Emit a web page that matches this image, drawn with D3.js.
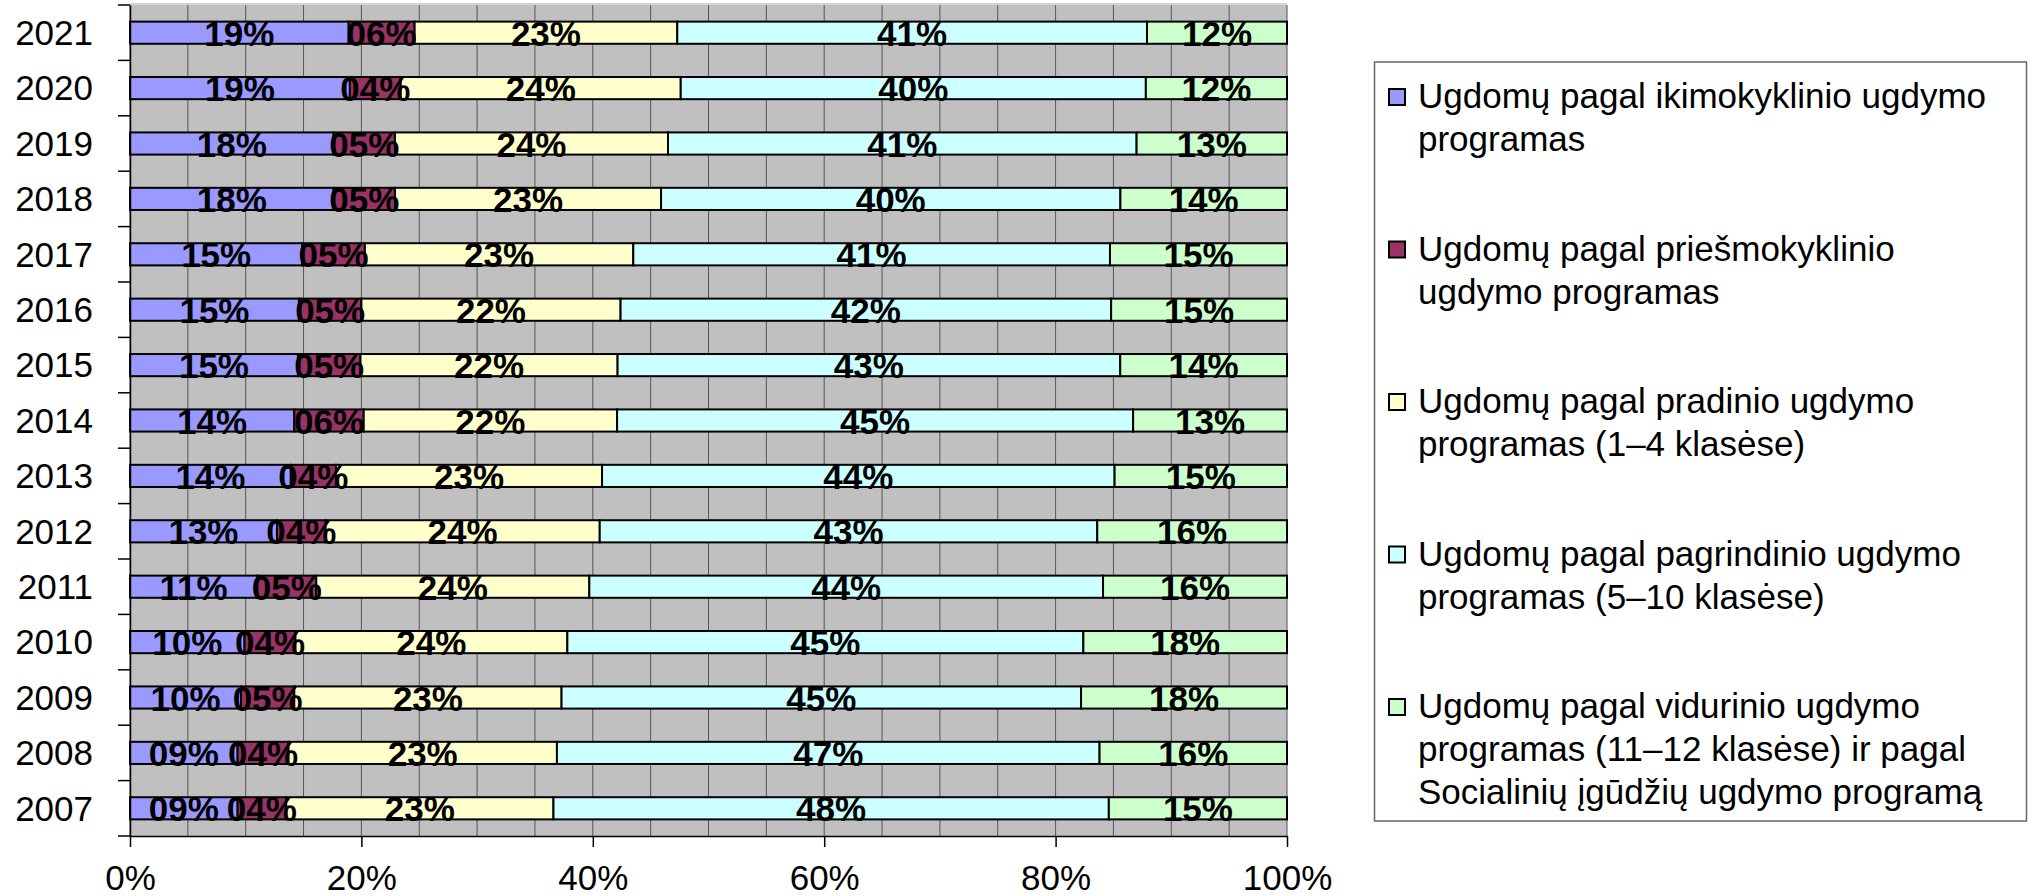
<!DOCTYPE html>
<html>
<head>
<meta charset="utf-8">
<script src="https://cdn.jsdelivr.net/npm/d3@7"></script>
<style>
    body { margin: 0; background: #fff; }
    svg text { font-family: "Liberation Sans", Arial, sans-serif; }
</style>
</head>
<body>
<div id="chart"></div>
<script>
// categories (top to bottom as in the chart)
const years = ["2021", "2020", "2019", "2018", "2017", "2016", "2015", "2014",
    "2013", "2012", "2011", "2010", "2009", "2008", "2007"];

// shares per year, %
const ikimokyklinio  = [18.9, 19.0, 17.6, 17.6, 14.9, 14.6, 14.5, 14.2, 13.9, 12.7, 11.0, 9.9, 9.6, 9.3, 9.3];
const priesmokyklinio = [5.7, 4.4, 5.3, 5.3, 5.4, 5.4, 5.4, 6.0, 3.9, 4.2, 5.1, 4.4, 4.6, 4.4, 4.2];
const pradinio       = [22.7, 24.2, 23.6, 23.0, 23.2, 22.4, 22.2, 21.9, 23.0, 23.7, 23.6, 23.5, 23.1, 23.2, 23.1];
const pagrindinio    = [40.6, 40.2, 40.5, 39.7, 41.2, 42.4, 43.4, 44.6, 44.3, 43.0, 44.4, 44.6, 44.9, 46.9, 48.0];
const vidurinio      = [12.1, 12.2, 13.0, 14.4, 15.3, 15.2, 14.4, 13.3, 14.9, 16.4, 15.9, 17.6, 17.8, 16.2, 15.4];

const seriesNames = [
    ["Ugdomų pagal ikimokyklinio ugdymo", "programas"],
    ["Ugdomų pagal priešmokyklinio", "ugdymo programas"],
    ["Ugdomų pagal pradinio ugdymo", "programas (1–4 klasėse)"],
    ["Ugdomų pagal pagrindinio ugdymo", "programas (5–10 klasėse)"],
    ["Ugdomų pagal vidurinio ugdymo", "programas (11–12 klasėse) ir pagal", "Socialinių įgūdžių ugdymo programą"]
];

const xTicks = [0, 0.2, 0.4, 0.6, 0.8, 1];

const colors = ["#9999FF", "#993366", "#FFFFCC", "#CCFFFF", "#CCFFCC"];

// ---------------------------------------------------------------

const keys = ["s0", "s1", "s2", "s3", "s4"];
const allSeries = [ikimokyklinio, priesmokyklinio, pradinio, pagrindinio, vidurinio];

let rows = years.map((yr, i) => {
    let r = { year: yr };
    keys.forEach((k, j) => r[k] = allSeries[j][i]);
    return r;
});

let width = 2035, height = 896;
let plot = { left: 130, right: 1287, top: 5, bottom: 836 };

let svg = d3.select("#chart").append("svg")
    .attr("width", width)
    .attr("height", height);

let x = d3.scaleLinear()
    .domain([0, 1])
    .range([plot.left, plot.right]);

let y = d3.scaleBand()
    .domain(years)
    .range([plot.top, plot.bottom])
    .paddingInner(0.6)
    .paddingOuter(0.3);

let stacked = d3.stack()
    .keys(keys)
    .offset(d3.stackOffsetExpand)(rows);

// plot background
svg.append("rect")
    .attr("x", plot.left)
    .attr("y", plot.top)
    .attr("width", plot.right - plot.left)
    .attr("height", plot.bottom - plot.top)
    .attr("fill", "#C0C0C0");

svg.append("line")
    .attr("x1", plot.left).attr("x2", plot.right)
    .attr("y1", plot.top - 1).attr("y2", plot.top - 1)
    .attr("stroke", "#d4d4d4")
    .attr("stroke-width", 2);

// vertical grid, every 4%
svg.append("g")
    .selectAll("line")
    .data(x.ticks(25))
    .join("line")
    .attr("x1", d => x(d)).attr("x2", d => x(d))
    .attr("y1", plot.top).attr("y2", plot.bottom)
    .attr("stroke", "#555")
    .attr("stroke-width", 1);

// bars
let groups = svg.append("g")
    .selectAll("g")
    .data(stacked)
    .join("g")
    .attr("fill", (d, i) => colors[i]);

groups.selectAll("rect")
    .data(d => d)
    .join("rect")
    .attr("x", d => x(d[0]))
    .attr("y", d => y(d.data.year))
    .attr("width", d => x(d[1]) - x(d[0]))
    .attr("height", y.bandwidth())
    .attr("stroke", "#000")
    .attr("stroke-width", 2);

// value labels
let fmtPct = v => String(Math.round(v)).padStart(2, "0") + "%";

stacked.forEach((s, i) => {
    svg.append("g")
        .selectAll("text")
        .data(s)
        .join("text")
        .attr("x", d => x((d[0] + d[1]) / 2))
        .attr("y", d => y(d.data.year) + y.bandwidth() / 2 + 13)
        .attr("text-anchor", "middle")
        .attr("font-size", 35)
        .attr("font-weight", "bold")
        .attr("fill", "#000")
        .text(d => fmtPct(d.data[s.key]));
});

// x axis
let xAxis = d3.axisBottom(x)
    .tickValues(xTicks)
    .tickFormat(d3.format(".0%"))
    .tickSizeInner(11)
    .tickSizeOuter(0);

let gx = svg.append("g")
    .attr("transform", `translate(0,${plot.bottom})`)
    .call(xAxis);
gx.select(".domain").attr("stroke", "#000").attr("stroke-width", 1.5);
gx.selectAll(".tick line").attr("stroke", "#000").attr("stroke-width", 1.5);
gx.selectAll(".tick text")
    .attr("y", 54)
    .attr("dy", 0)
    .attr("font-size", 35)
    .attr("fill", "#000");

// y axis: labels centred on bars, ticks between categories
let yAxis = d3.axisLeft(y).tickSize(0).tickPadding(37);
let gy = svg.append("g")
    .attr("transform", `translate(${plot.left},0)`)
    .call(yAxis);
gy.select(".domain").attr("stroke", "#000").attr("stroke-width", 1.5);
gy.selectAll(".tick text")
    .attr("dy", "0.35em")
    .attr("font-size", 35)
    .attr("fill", "#000");

let bounds = d3.range(years.length + 1).map(i => plot.top + i * y.step());
gy.selectAll(".bound")
    .data(bounds)
    .join("line")
    .attr("class", "bound")
    .attr("x1", -12).attr("x2", 0)
    .attr("y1", d => d).attr("y2", d => d)
    .attr("stroke", "#000")
    .attr("stroke-width", 1.5);

// legend
let legend = svg.append("g");
legend.append("rect")
    .attr("x", 1374.5)
    .attr("y", 62)
    .attr("width", 652)
    .attr("height", 759)
    .attr("fill", "#fff")
    .attr("stroke", "#666")
    .attr("stroke-width", 1.5);

let item = legend.selectAll(".item")
    .data(seriesNames)
    .join("g")
    .attr("class", "item")
    .attr("transform", (d, i) => `translate(1389,${97 + i * 152.5})`);

item.append("rect")
    .attr("x", 0)
    .attr("y", -8)
    .attr("width", 16)
    .attr("height", 16)
    .attr("fill", (d, i) => colors[i])
    .attr("stroke", "#000")
    .attr("stroke-width", 2);

item.append("text")
    .attr("x", 29)
    .attr("y", 11)
    .attr("font-size", 35)
    .attr("fill", "#000")
    .selectAll("tspan")
    .data(d => d)
    .join("tspan")
    .attr("x", 29)
    .attr("dy", (d, i) => i === 0 ? 0 : 43)
    .text(d => d);
</script>
</body>
</html>
